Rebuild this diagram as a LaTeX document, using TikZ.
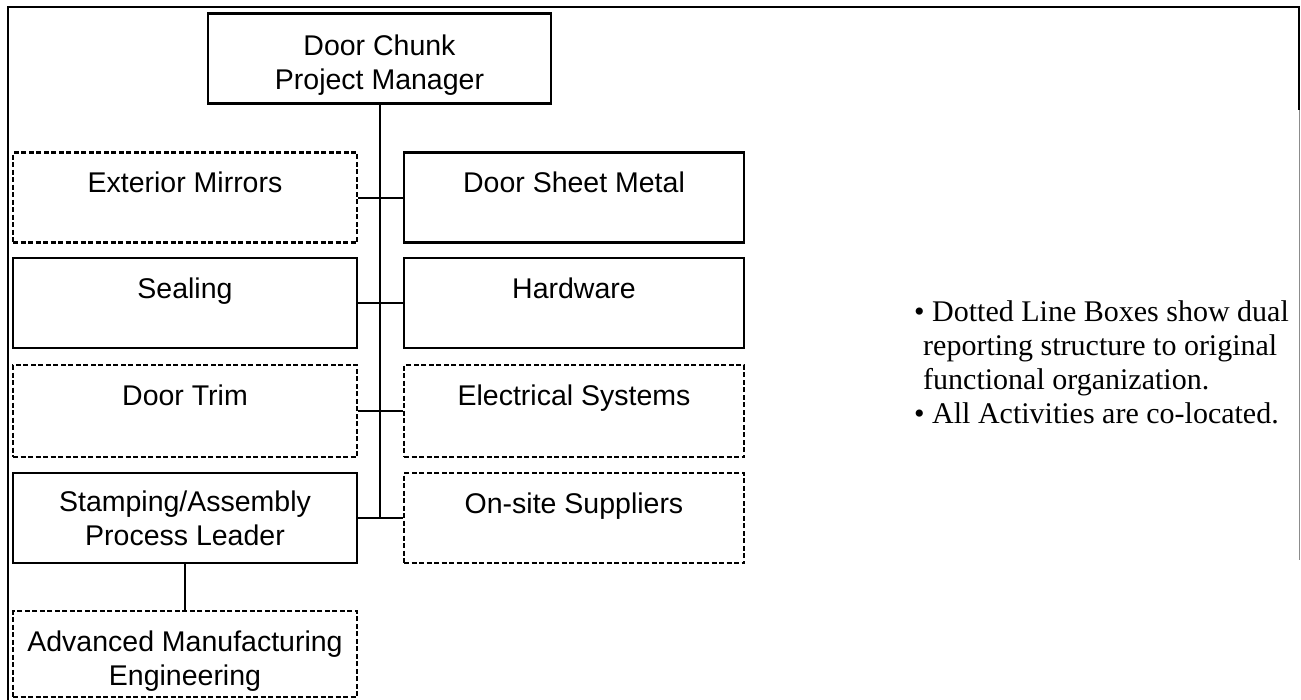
\documentclass[tikz,border=0pt]{standalone}
\usepackage{fontspec}
\setmainfont{Liberation Sans}
\newfontfamily\notefamily{Liberation Serif}
\newcommand\boxfont{\fontsize{28.5}{34}\selectfont}
\newcommand\notefont{\notefamily\fontsize{30}{34}\selectfont}
\begin{document}
\begin{tikzpicture}[x=1pt,y=-1pt,
  box/.style={draw, line width=2.1pt, inner sep=0pt, minimum width=344pt, minimum height=90pt, font=\boxfont},
  rbox/.style={box, minimum width=340pt},
  dbox/.style={dash pattern=on 5pt off 2.5pt},
  oneline/.style={text height=40pt, text depth=50pt},
  twoline/.style={align=center},
  conn/.style={line width=2pt},
  frame/.style={line width=2pt},
  note/.style={align=left, inner sep=0pt, font=\notefont}]
\useasboundingbox (0,0) rectangle (1301,699);
% outer frame
\draw[frame] (8,705) -- (8,7) -- (1299,7) -- (1299,110);
\draw[line width=1pt, black!45] (1299,110) -- (1299,560);
% boxes
\node[box, twoline, minimum width=343pt, minimum height=90pt] (pm) at (379.5,58.5) {\rule{0pt}{33pt}Door Chunk\\Project Manager};
\node[box, dbox, oneline] (em) at (185,197.5) {Exterior Mirrors};
\node[rbox, oneline] (dsm) at (574,197.5) {Door Sheet Metal};
\node[box, oneline] (seal) at (185,303) {Sealing};
\node[rbox, oneline] (hw) at (574,303) {Hardware};
\node[box, dbox, oneline, text depth=52pt] (trim) at (185,411) {Door Trim};
\node[rbox, dbox, oneline, text depth=52pt] (elec) at (574,411) {Electrical Systems};
\node[box, twoline] (sa) at (185,518) {Stamping/Assembly\\Process Leader};
\node[rbox, dbox, oneline] (sup) at (574,518) {On-site Suppliers};
\node[box, dbox, twoline, minimum height=86pt] (ame) at (185,654) {\rule{0pt}{34pt}Advanced Manufacturing\\Engineering};
% connectors
\draw[conn] (pm.south) -- (pm.south |- sa.east);
\draw[conn] (em.east) -- (dsm.west);
\draw[conn] (seal.east) -- (hw.west);
\draw[conn] (trim.east) -- (elec.west);
\draw[conn] (sa.east) -- (sup.west);
\draw[conn] (sa.south) -- (ame.north);
% notes
\node[note, anchor=north west] (notes) at (914,300) {\textbullet\ Dotted Line Boxes show dual\\\hspace*{0.3em}reporting structure to original\\\hspace*{0.3em}functional organization.\\\textbullet\ All Activities are co-located.};
\end{tikzpicture}
\end{document}
